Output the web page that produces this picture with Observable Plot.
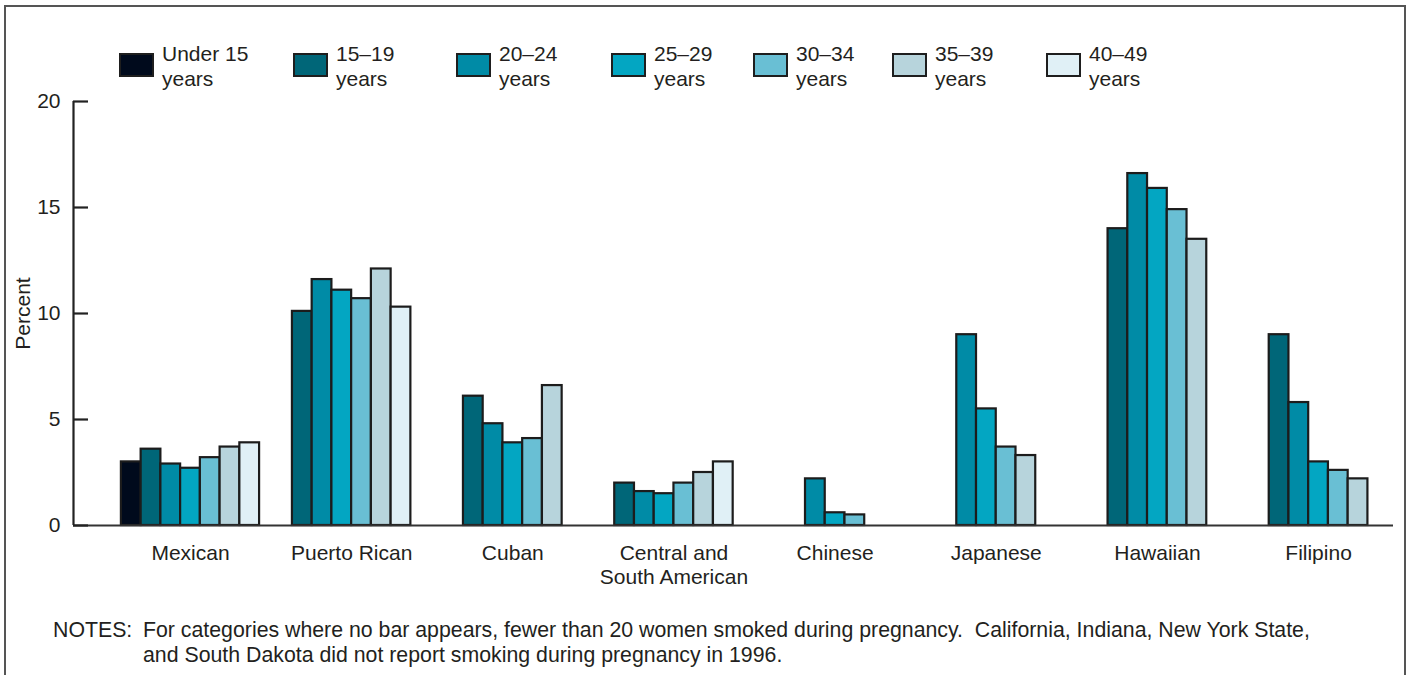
<!DOCTYPE html>
<html>
<head>
<meta charset="utf-8">
<script src="https://cdn.jsdelivr.net/npm/d3@7"></script>
<script src="https://cdn.jsdelivr.net/npm/@observablehq/plot@0.6"></script>
<style>
  html, body { margin: 0; padding: 0; background: #fff; }
  body { width: 1411px; height: 675px; position: relative; overflow: hidden;
         font-family: "Liberation Sans", Arial, Helvetica, sans-serif; color: #231f20; }
  #frame { position: absolute; left: 4px; top: 5px; width: 1402px; height: 700px;
           border: 2px solid #555; box-sizing: border-box; }
  #legend { position: absolute; top: 41px; left: 0; width: 1411px; height: 50px; }
  .item { position: absolute; display: flex; align-items: flex-start; }
  .sw { width: 31px; height: 20px; border: 2.5px solid #1e1e1e; margin-top: 12px; margin-right: 8px; }
  .lt { font-size: 21px; line-height: 25px; }
  #chart { position: absolute; left: 0; top: 90px; }
  #notes { position: absolute; left: 53px; top: 618px; font-size: 21.3px; line-height: 25px; display: flex; white-space: nowrap; }
  #notes .hd { width: 90px; }
</style>
</head>
<body>
<div id="frame"></div>
<div id="legend"></div>
<div id="chart"></div>
<div id="notes"><span class="hd">NOTES:</span><span>For categories where no bar appears, fewer than 20 women smoked during pregnancy.&nbsp; California, Indiana, New York State,<br>and South Dakota did not report smoking during pregnancy in 1996.</span></div>
<script>
// ---- Data ----
const groups = ["Mexican", "Puerto Rican", "Cuban", "Central and\nSouth American", "Chinese", "Japanese", "Hawaiian", "Filipino"];
const ages = ["Under 15\nyears", "15–19\nyears", "20–24\nyears", "25–29\nyears", "30–34\nyears", "35–39\nyears", "40–49\nyears"];
const ageColors = ["#000a1c", "#006678", "#008ba6", "#03a6c2", "#69bfd4", "#b7d4dc", "#e0f0f6"];
// values per age group (Under 15 ... 40–49); null = no bar
const mexican     = [3.0, 3.6, 2.9, 2.7, 3.2, 3.7, 3.9];
const puertoRican = [null, 10.1, 11.6, 11.1, 10.7, 12.1, 10.3];
const cuban       = [null, 6.1, 4.8, 3.9, 4.1, 6.6, null];
const centralSouth= [null, 2.0, 1.6, 1.5, 2.0, 2.5, 3.0];
const chinese     = [null, null, 2.2, 0.6, 0.5, null, null];
const japanese    = [null, null, 9.0, 5.5, 3.7, 3.3, null];
const hawaiian    = [null, 14.0, 16.6, 15.9, 14.9, 13.5, null];
const filipino    = [null, 9.0, 5.8, 3.0, 2.6, 2.2, null];
const yTicks = [0, 5, 10, 15, 20];

const series = [mexican, puertoRican, cuban, centralSouth, chinese, japanese, hawaiian, filipino];

// ---- Layout ----
const barW = 0.1225;          // bar width in group units
const xMin = -0.726, xMax = 7.465;
const rows = [];
series.forEach((vals, gi) => {
  const present = vals.map((v, ai) => ({v, ai})).filter(d => d.v != null);
  const n = present.length;
  present.forEach((d, k) => {
    const off = k - (n - 1) / 2;
    rows.push({group: groups[gi], age: ages[d.ai], value: d.v,
               x1: gi + (off - 0.5) * barW, x2: gi + (off + 0.5) * barW});
  });
});

const chart = Plot.plot({
  width: 1411,
  height: 510,
  marginLeft: 73,
  marginRight: 18,
  marginTop: 11,
  marginBottom: 75,
  style: {fontFamily: "'Liberation Sans', Arial, Helvetica, sans-serif", fontSize: "21px", color: "#231f20", background: "transparent"},
  x: {domain: [xMin, xMax], axis: null},
  y: {domain: [0, 20], axis: null},
  color: {domain: ages, range: ageColors},
  marks: [
    Plot.rect(rows, {x1: "x1", x2: "x2", y1: 0, y2: "value", fill: "age", stroke: "#1c1c1c", strokeWidth: 2.2}),
    Plot.ruleY([0], {stroke: "#333", strokeWidth: 2.2}),
    Plot.ruleX([xMin], {y1: 0, y2: 20, stroke: "#222", strokeWidth: 2.2}),
    Plot.axisY(yTicks, {anchor: "left", tickSize: -15, tickPadding: 28, strokeWidth: 2.2, stroke: "#222",
      fontSize: 21, label: "Percent", labelAnchor: "center", labelOffset: 58, labelArrow: "none"}),
    Plot.axisX(d3.range(groups.length), {anchor: "bottom", tickSize: 0, tickPadding: 17, fontSize: 21,
      tickFormat: i => groups[i], label: null, lineHeight: 1.15})
  ]
});
document.getElementById("chart").appendChild(chart);

// ---- Legend ----
const legendLeft = [119, 293, 456, 611, 753, 892, 1046];
const legend = document.getElementById("legend");
ages.forEach((a, i) => {
  const it = document.createElement("div");
  it.className = "item";
  it.style.left = legendLeft[i] + "px";
  const sw = document.createElement("div");
  sw.className = "sw";
  sw.style.background = ageColors[i];
  const lt = document.createElement("div");
  lt.className = "lt";
  lt.innerHTML = a.replace("\n", "<br>");
  it.appendChild(sw); it.appendChild(lt);
  legend.appendChild(it);
});
</script>
</body>
</html>
